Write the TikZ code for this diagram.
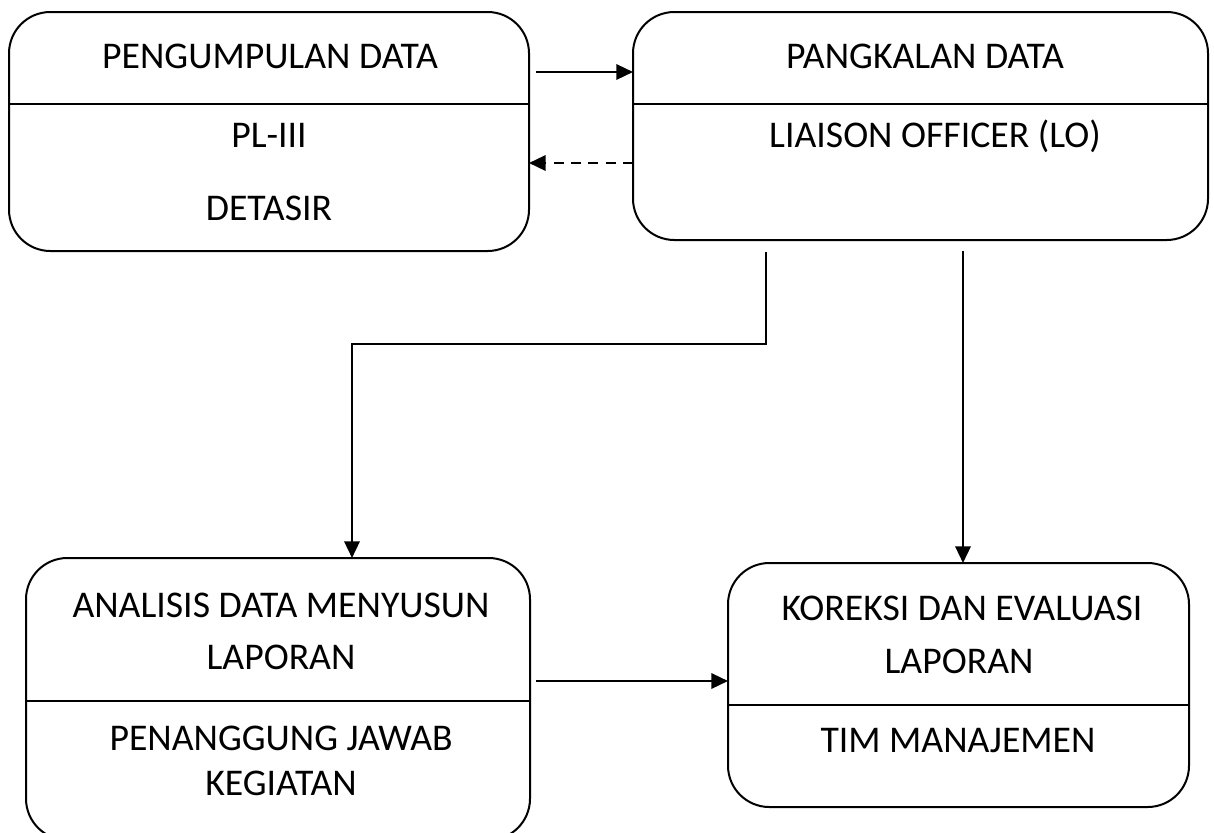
\documentclass[tikz,border=0pt]{standalone}
\usepackage{fontspec}
\setmainfont{Carlito}
\usetikzlibrary{arrows.meta}
\begin{document}
\begin{tikzpicture}[x=0.75pt,y=-0.75pt,
  box/.style={draw=black,line width=1.5pt,rounded corners=31pt,inner sep=0pt,outer sep=0pt},
  divider/.style={draw=black,line width=1.5pt},
  lbl/.style={anchor=base,inner sep=0pt,font=\fontsize{28.3pt}{34pt}\selectfont},
  conn/.style={draw=black,line width=1.8pt,-{Triangle[length=12.5pt,width=11.5pt]}},
  dconn/.style={conn,dash pattern=on 7.5pt off 5.5pt}]
\useasboundingbox (0,0) rectangle (1214,832);
% boxes
\node[box,minimum width=390pt,minimum height=179.25pt] (b1) at (269,131.5) {};
\node[box,minimum width=431.25pt,minimum height=171pt] (b2) at (920.5,126) {};
\node[box,minimum width=378pt,minimum height=211.5pt] (b3) at (278,699) {};
\node[box,minimum width=345.75pt,minimum height=183pt] (b4) at (958.5,685) {};
% dividers
\draw[divider] (b1.west |- 0,104) -- (b1.east |- 0,104);
\draw[divider] (b2.west |- 0,104) -- (b2.east |- 0,104);
\draw[divider] (b3.west |- 0,701) -- (b3.east |- 0,701);
\draw[divider] (b4.west |- 0,705) -- (b4.east |- 0,705);
% texts
\node[lbl] (t1a) at (270,68) {PENGUMPULAN DATA};
\node[lbl] (t1b) at (269,147) {PL-III};
\node[lbl] (t1c) at (269,220) {DETASIR};
\node[lbl] (t2a) at (925,68) {PANGKALAN DATA};
\node[lbl] (t2b) at (935,147) {LIAISON OFFICER (LO)};
\node[lbl] (t3a) at (281,617) {ANALISIS DATA MENYUSUN};
\node[lbl] (t3b) at (281,669) {LAPORAN};
\node[lbl] (t3c) at (281,750) {PENANGGUNG JAWAB};
\node[lbl] (t3d) at (281,795) {KEGIATAN};
\node[lbl] (t4a) at (962,620) {KOREKSI DAN EVALUASI};
\node[lbl] (t4b) at (959,673) {LAPORAN};
\node[lbl] (t4c) at (958,752) {TIM MANAJEMEN};
% connectors
\coordinate (s1) at (536,72);
\draw[conn] (s1) -- (b2.west |- s1);
\coordinate (s2) at (b2.west |- 0,163);
\draw[dconn] (s2) -- (b1.east |- s2);
\coordinate (s3) at (766,252);
\coordinate (k3) at (352,344);
\draw[conn] (s3) |- (k3) -- (k3 |- b3.north);
\coordinate (s4) at (963,251);
\draw[conn] (s4) -- (s4 |- b4.north);
\coordinate (s5) at (536,681);
\draw[conn] (s5) -- (s5 -| b4.west);
\end{tikzpicture}
\end{document}
